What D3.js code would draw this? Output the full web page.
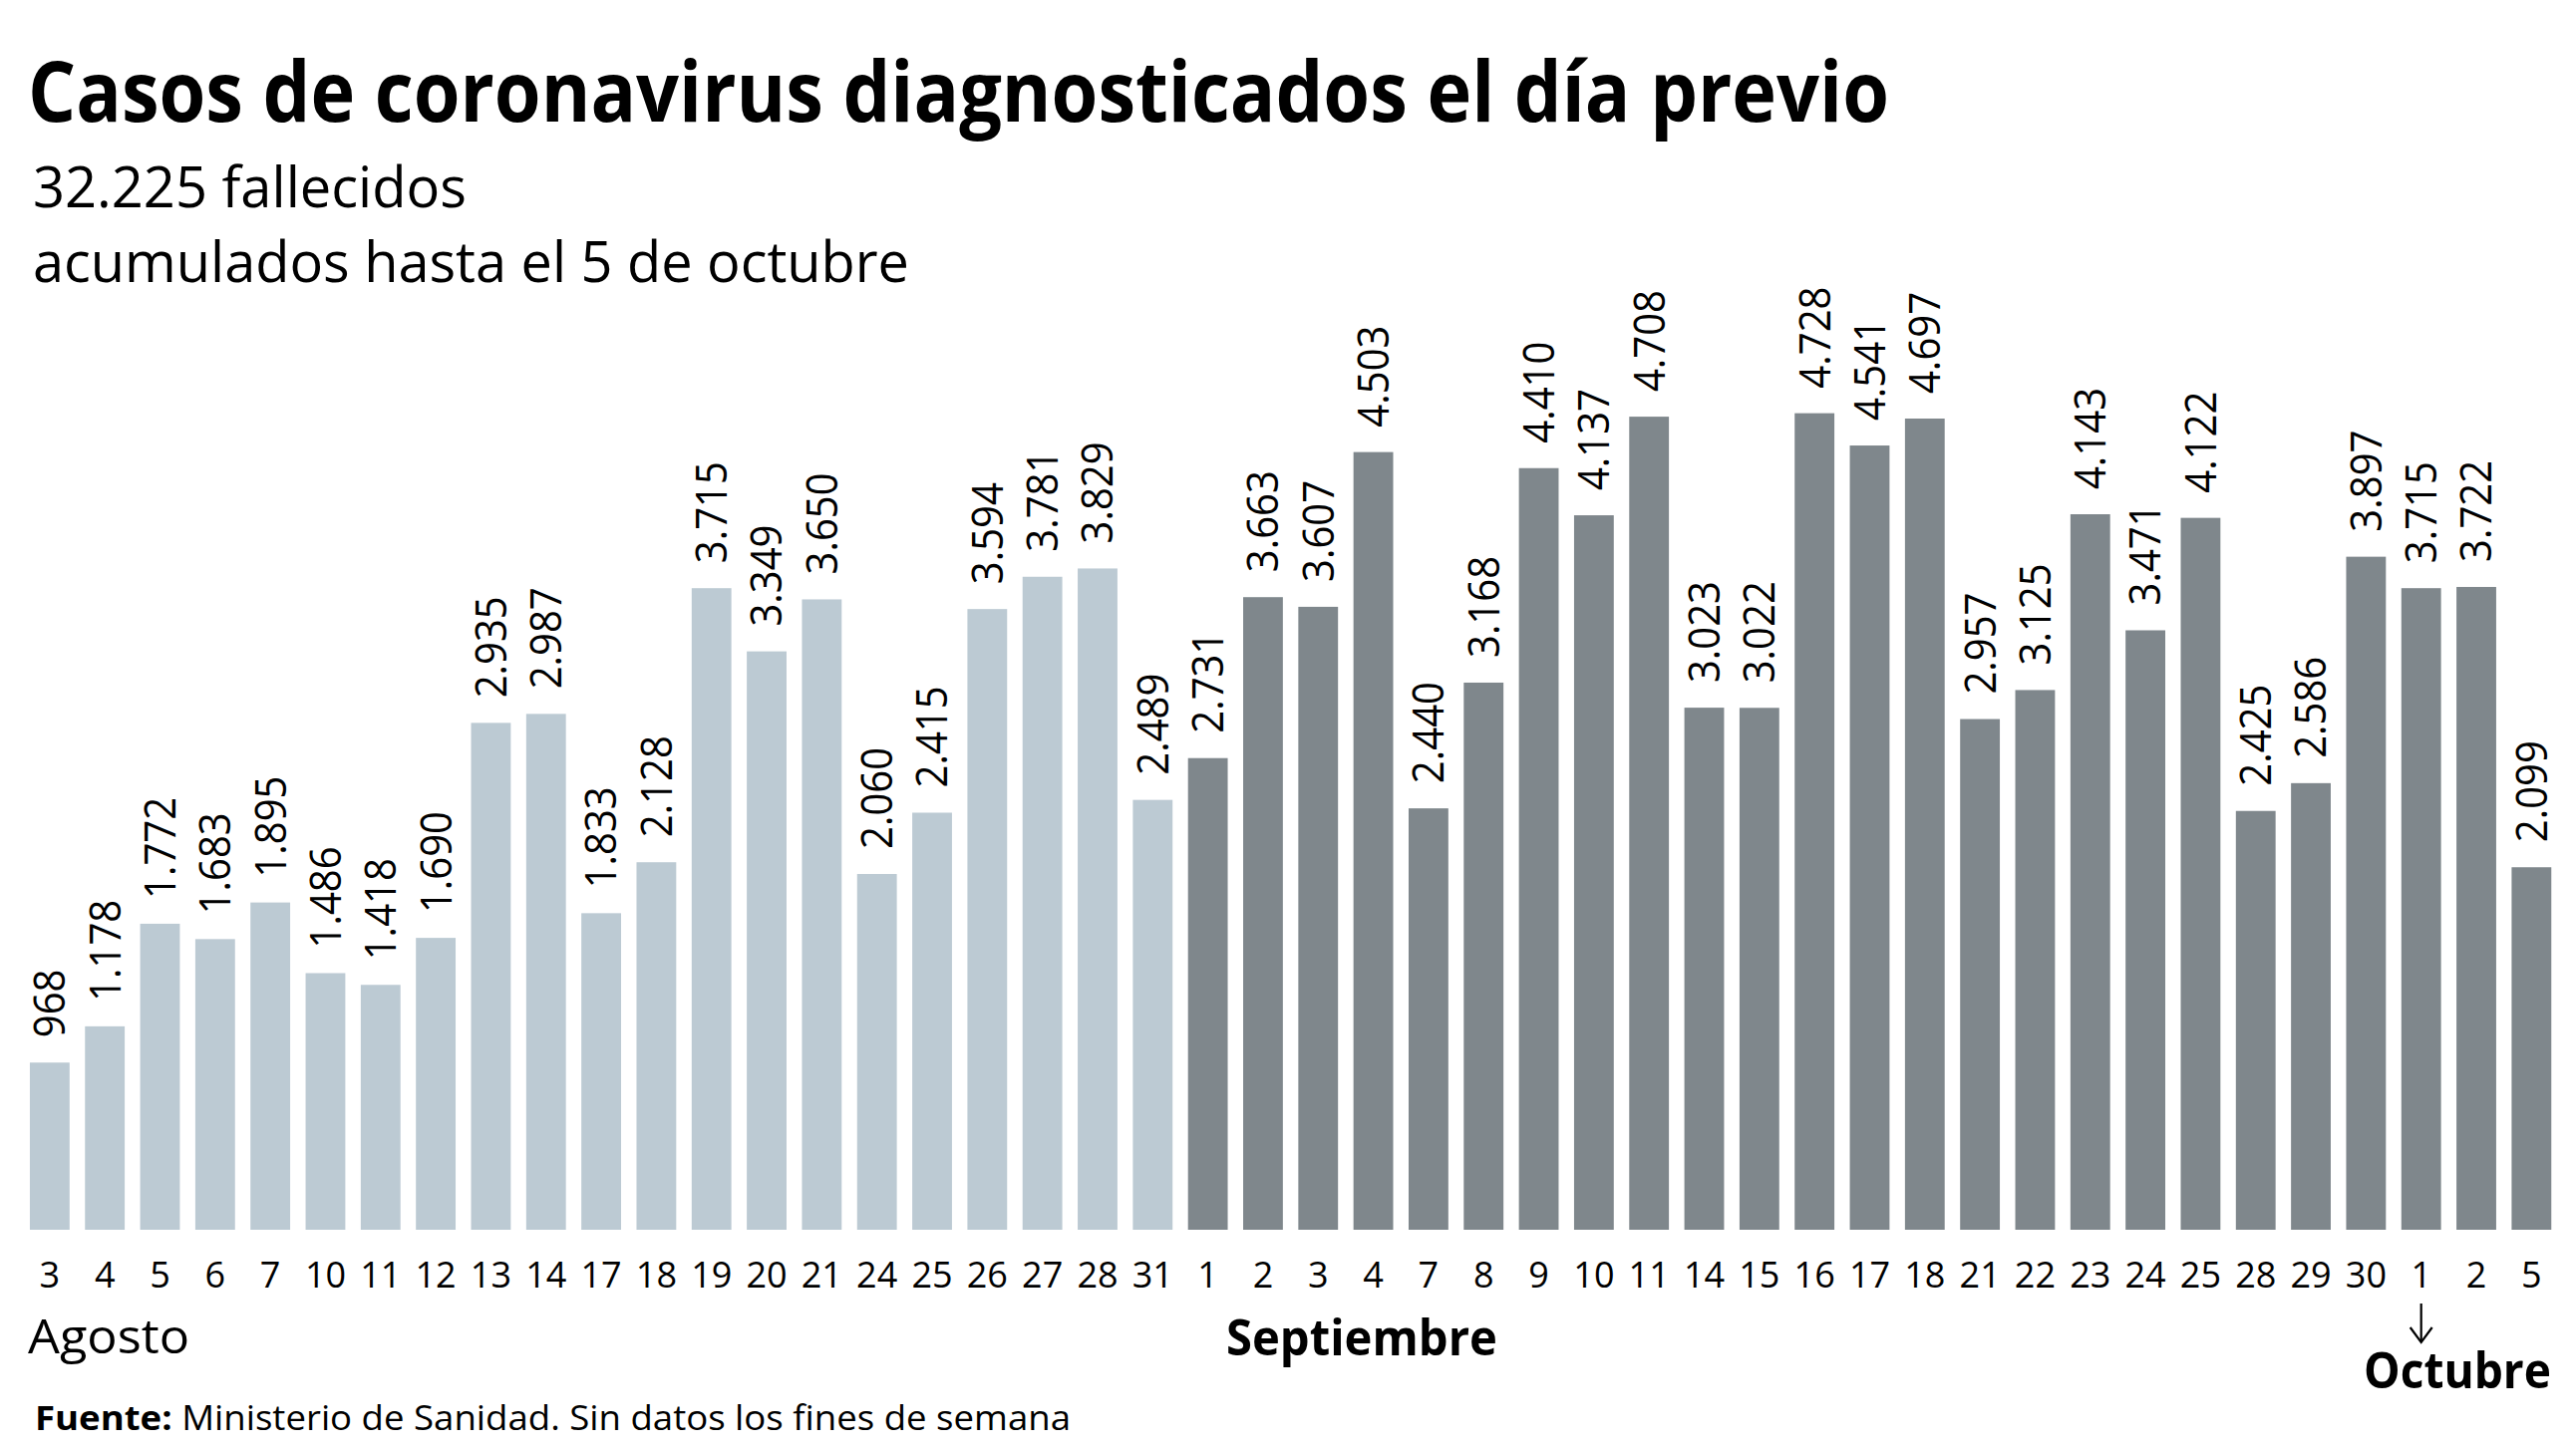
<!DOCTYPE html>
<html>
<head>
<meta charset="utf-8">
<script src="https://cdn.jsdelivr.net/npm/d3@7"></script>
<style>
  html, body { margin: 0; padding: 0; background: #ffffff; }
  svg { display: block; }
  text { font-family: "Open Sans", "Noto Sans", sans-serif; fill: #000; }
</style>
</head>
<body>
<svg id="chart" width="2584" height="1455"></svg>
<script>
// ---- Data ----
const augDays  = [3, 4, 5, 6, 7, 10, 11, 12, 13, 14, 17, 18, 19, 20, 21, 24, 25, 26, 27, 28, 31];
const augCases = [968, 1178, 1772, 1683, 1895, 1486, 1418, 1690, 2935, 2987, 1833, 2128, 3715, 3349, 3650, 2060, 2415, 3594, 3781, 3829, 2489];
const sepDays  = [1, 2, 3, 4, 7, 8, 9, 10, 11, 14, 15, 16, 17, 18, 21, 22, 23, 24, 25, 28, 29, 30];
const sepCases = [2731, 3663, 3607, 4503, 2440, 3168, 4410, 4137, 4708, 3023, 3022, 4728, 4541, 4697, 2957, 3125, 4143, 3471, 4122, 2425, 2586, 3897];
const octDays  = [1, 2, 5];
const octCases = [3715, 3722, 2099];

const title = "Casos de coronavirus diagnosticados el día previo";
const subtitle1 = "32.225 fallecidos";
const subtitle2 = "acumulados hasta el 5 de octubre";
const monthNames = ["Agosto", "Septiembre", "Octubre"];
const sourceBold = "Fuente:";
const sourceText = " Ministerio de Sanidad. Sin datos los fines de semana";

const lightColor = "#bccad3";
const darkColor = "#7f878c";

// ---- Build rows ----
const rows = [];
augDays.forEach((d, i) => rows.push({ key: "ago-" + d, day: d, month: 0, value: augCases[i] }));
sepDays.forEach((d, i) => rows.push({ key: "sep-" + d, day: d, month: 1, value: sepCases[i] }));
octDays.forEach((d, i) => rows.push({ key: "oct-" + d, day: d, month: 2, value: octCases[i] }));

const es = d3.formatLocale({ decimal: ",", thousands: ".", grouping: [3], currency: ["", " €"] });
const fmt = es.format(",d");

const svg = d3.select("#chart");

// ---- Scales ----
const x = d3.scaleBand()
  .domain(rows.map(r => r.key))
  .range([22.2, 2567])
  .paddingInner(0.28)
  .paddingOuter(0.14);

const y = d3.scaleLinear()
  .domain([0, 5000])
  .range([1234, 1234 - 866.5]);

// ---- Title / subtitle ----
svg.append("text")
  .attr("x", 28).attr("y", 122)
  .attr("font-size", 84).attr("font-weight", 700)
  .attr("textLength", 1867).attr("lengthAdjust", "spacingAndGlyphs")
  .text(title);

svg.append("text")
  .attr("x", 33).attr("y", 208)
  .attr("font-size", 56)
  .attr("textLength", 435).attr("lengthAdjust", "spacingAndGlyphs")
  .text(subtitle1);

svg.append("text")
  .attr("x", 33).attr("y", 283)
  .attr("font-size", 56)
  .attr("textLength", 879).attr("lengthAdjust", "spacingAndGlyphs")
  .text(subtitle2);

// ---- Bars ----
svg.append("g").selectAll("rect")
  .data(rows)
  .join("rect")
  .attr("x", d => x(d.key))
  .attr("width", x.bandwidth())
  .attr("y", d => y(d.value))
  .attr("height", d => y(0) - y(d.value))
  .attr("fill", d => d.month === 0 ? lightColor : darkColor);

// ---- Value labels ----
svg.append("g").selectAll("text")
  .data(rows)
  .join("text")
  .attr("transform", d => `translate(${x(d.key) + x.bandwidth() / 2},${y(d.value) - 25}) rotate(-90) scale(0.91,1)`)
  .attr("dy", "0.35em")
  .attr("font-size", 44)
  .attr("text-anchor", "start")
  .text(d => fmt(d.value));

// ---- X axis ----
const xAxis = d3.axisBottom(x)
  .tickSize(0)
  .tickPadding(0)
  .tickFormat(k => rows.find(r => r.key === k).day);

const gx = svg.append("g")
  .attr("transform", "translate(0,1292)")
  .call(xAxis);
gx.select(".domain").remove();
gx.selectAll("text")
  .attr("dy", 0)
  .attr("y", 0)
  .attr("font-size", 36)
  .attr("font-family", "Open Sans")
  .attr("fill", "#000");

// ---- Month labels ----
svg.append("text")
  .attr("x", 28).attr("y", 1358)
  .attr("font-size", 47)
  .attr("textLength", 162).attr("lengthAdjust", "spacingAndGlyphs")
  .text(monthNames[0]);

svg.append("text")
  .attr("x", 1230).attr("y", 1360)
  .attr("font-size", 51).attr("font-weight", 700)
  .attr("textLength", 272).attr("lengthAdjust", "spacingAndGlyphs")
  .text(monthNames[1]);

svg.append("text")
  .attr("x", 2371).attr("y", 1393)
  .attr("font-size", 51).attr("font-weight", 700)
  .attr("textLength", 188).attr("lengthAdjust", "spacingAndGlyphs")
  .text(monthNames[2]);

// Arrow under October 1
const ax = x("oct-1") + x.bandwidth() / 2;
svg.append("line")
  .attr("x1", ax).attr("x2", ax)
  .attr("y1", 1308).attr("y2", 1346)
  .attr("stroke", "#000").attr("stroke-width", 2.2);
svg.append("path")
  .attr("d", `M${ax - 11},${1332} L${ax},${1347} L${ax + 11},${1332}`)
  .attr("fill", "none")
  .attr("stroke", "#000").attr("stroke-width", 2.2);

// ---- Source ----
const src = svg.append("text")
  .attr("x", 35).attr("y", 1435)
  .attr("font-size", 34)
  .attr("textLength", 1039).attr("lengthAdjust", "spacingAndGlyphs");
src.append("tspan").attr("font-weight", 700).text(sourceBold);
src.append("tspan").text(sourceText);
</script>
</body>
</html>
